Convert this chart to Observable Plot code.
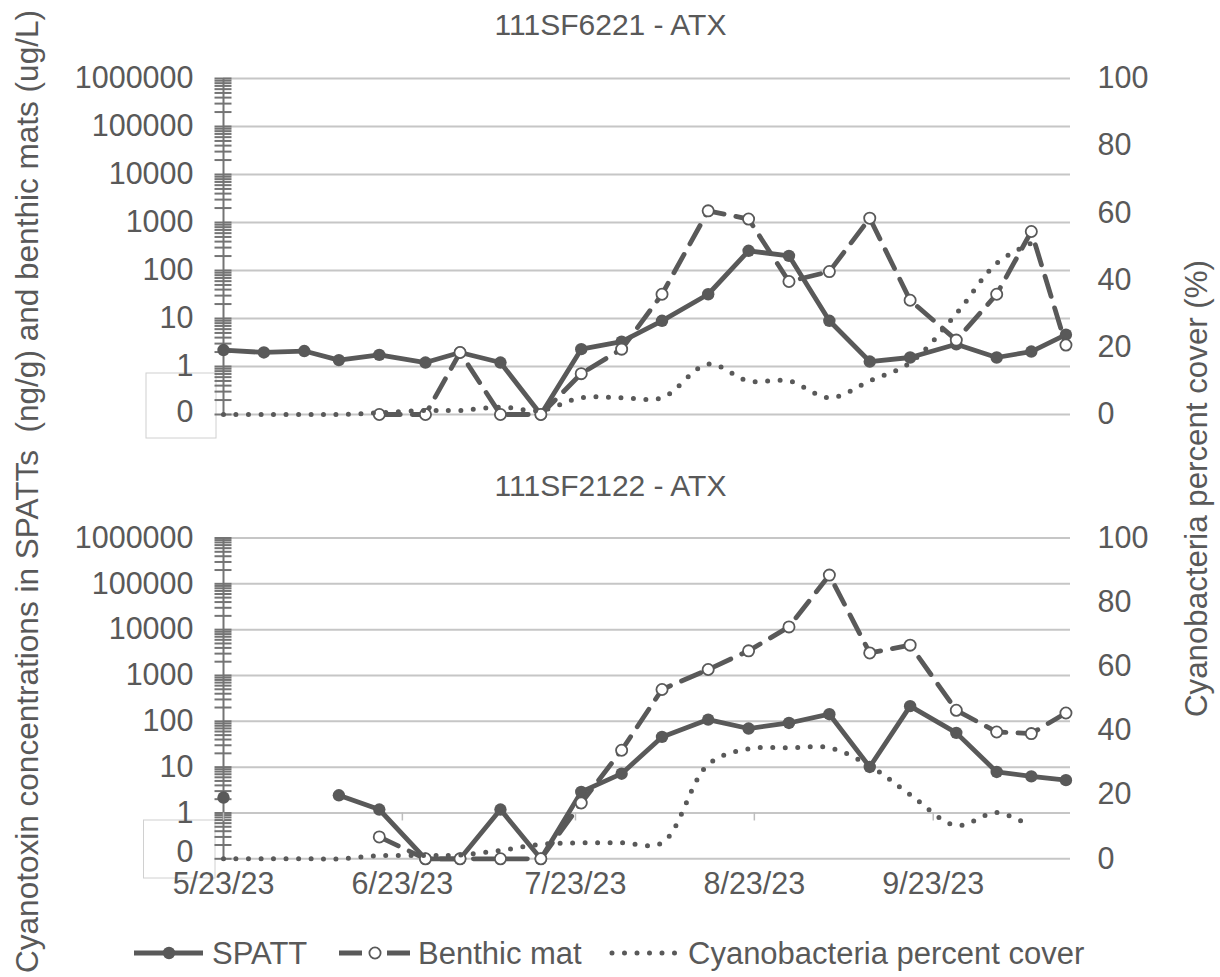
<!DOCTYPE html>
<html><head><meta charset="utf-8">
<script src="https://cdn.jsdelivr.net/npm/d3@7"></script>
<script src="https://cdn.jsdelivr.net/npm/@observablehq/plot@0.6"></script>
<style>
html,body{margin:0;padding:0;background:#fff;}
#wrap{position:relative;width:1220px;height:977px;overflow:hidden;background:#fff;font-family:"Liberation Sans",Arial,sans-serif;}
#wrap > svg{position:absolute;left:0;}
</style></head><body><div id="wrap"></div>
<script>
// ---------- data ----------
const dates = ["2023-05-23","2023-05-30","2023-06-06","2023-06-12","2023-06-19","2023-06-27","2023-07-03",
  "2023-07-10","2023-07-17","2023-07-24","2023-07-31","2023-08-07","2023-08-15","2023-08-22","2023-08-29",
  "2023-09-05","2023-09-12","2023-09-19","2023-09-27","2023-10-04","2023-10-10","2023-10-16"];
// 111SF6221 (ng/g SPATT, ug/L benthic; 0.1 = plotted as "0")
const spattTop = [2.2,1.96,2.1,1.36,1.75,1.21,1.96,1.21,0.1,2.3,3.3,8.95,32,257,202,8.95,1.27,1.54,2.9,1.54,2.05,4.6];
const benthicTop = [null,null,null,null,0.1,0.1,1.96,0.1,0.1,0.71,2.3,32,1750,1180,59,95,1230,24,3.55,32,650,2.8];
const coverTop = [0,0,0,0,0.5,1.2,1.2,2.2,1.2,5,5,5,15,10,10,5,10,15.4,30,45,51,null];
// 111SF2122
const spattBottom = [2.17,null,null,2.43,1.19,0.1,0.1,1.19,0.1,2.88,7.2,45.7,109,69.6,92,143,10.1,214,56,7.85,6.3,5.2];
const benthicBottom = [null,null,null,null,0.3,0.1,0.1,0.1,0.1,1.65,23.4,495,1350,3450,11500,155000,3100,4590,174,58.5,54,152];
const coverBottom = [0,0,0,0,1,1,1.2,2.6,4.5,5,5,5,29.4,34.3,34.6,34.6,29,20,10.4,14.4,10,null];

const panelTitles = ["111SF6221 - ATX","111SF2122 - ATX"];
const leftTicks = [1,10,100,1000,10000,100000,1000000];
const zeroTick = [0.1];
const rightTicks = [0,20,40,60,80,100];
const xTickDates = ["2023-05-23","2023-06-23","2023-07-23","2023-08-23","2023-09-23"];
const seriesNames = ["SPATT","Benthic mat","Cyanobacteria percent cover"];
const leftTitle = "Cyanotoxin concentrations in SPATTs  (ng/g) and benthic mats (ug/L)";
const rightTitle = "Cyanobacteria percent cover (%)";

// ---------- style ----------
const DARK = "#595959", TEXT = "#595959", GRID = "#c6c6c6", AXIS = "#747474";
const FONT = '"Liberation Sans", Arial, sans-serif';
const xDomain = [new Date("2023-05-23T00:00Z"), new Date("2023-10-16T19:00Z")];
const pctToY = p => Math.pow(10, -1 + 7 * p / 100);
const minorTicks = [];
for (let e = -1; e < 6; e++) for (let k = 1; k <= 9; k++) minorTicks.push(k * Math.pow(10, e));
minorTicks.push(1e6);
const fmtDate = d3.utcFormat("%-m/%-d/%y");

const wrap = document.getElementById("wrap");

// background layer (boxes behind the "0" labels)
const bg = d3.select(wrap).append("svg").attr("width",1220).attr("height",977).style("top","0px");
[[146,373,70,65],[143.5,820,71.5,58]].forEach(([x,y,w,h]) =>
  bg.append("rect").attr("x",x).attr("y",y).attr("width",w).attr("height",h)
    .attr("fill","#fff").attr("stroke","#d0d0d0").attr("stroke-width",1));

function panel(spatt, benthic, cover, top, height, marginTop, marginBottom, withXAxis, zeroDy) {
  const rows = dates.map((d, i) => ({
    date: new Date(d + "T00:00Z"),
    spatt: spatt[i], benthic: benthic[i],
    cover: cover[i] == null ? null : pctToY(cover[i])
  }));
  const plotH = height - marginTop - marginBottom;
  const marks = [
    Plot.ruleY(leftTicks.concat(zeroTick), {stroke: GRID, strokeWidth: 2}),
    Plot.ruleX([xDomain[0]], {stroke: AXIS, strokeWidth: 2}),
    Plot.axisY(minorTicks, {anchor: "left", tickSize: 17, dx: 8.5, tickFormat: () => "", stroke: AXIS, strokeWidth: 2}),
    Plot.text(leftTicks, {y: d => d, frameAnchor: "left", dx: -30, textAnchor: "end",
      text: d => String(d), fontSize: 30.5, fill: TEXT}),
    Plot.text(zeroTick, {y: d => d, frameAnchor: "left", dx: -30, dy: zeroDy, textAnchor: "end",
      text: () => "0", fontSize: 30.5, fill: TEXT}),
    Plot.text(rightTicks, {y: p => pctToY(p), frameAnchor: "right", dx: 27, textAnchor: "start",
      text: p => String(p), fontSize: 30.5, fill: TEXT})
  ];
  if (withXAxis) {
    const xt = xTickDates.map(d => new Date(d + "T00:00Z"));
    marks.push(
      Plot.ruleX(xt, {y1: 1, y2: Math.pow(10, -8 / (plotH / 7)), stroke: "#bdbdbd", strokeWidth: 1.5}),
      Plot.text(xt, {x: d => d, frameAnchor: "bottom", dy: 35, text: fmtDate, fontSize: 30.5, fill: TEXT})
    );
  }
  marks.push(
    Plot.line(rows, {x: "date", y: "spatt", stroke: DARK, strokeWidth: 4.8}),
    Plot.dot(rows, {x: "date", y: "spatt", r: 6.2, fill: DARK}),
    Plot.line(rows, {x: "date", y: "benthic", stroke: DARK, strokeWidth: 4.8, strokeDasharray: "21 12"}),
    Plot.dot(rows, {x: "date", y: "benthic", r: 5.6, fill: "white", stroke: DARK, strokeWidth: 1.8}),
    Plot.line(rows, {x: "date", y: "cover", stroke: DARK, strokeWidth: 5, strokeDasharray: "0 12.5",
      strokeLinecap: "round", curve: "catmull-rom"})
  );
  const svg = Plot.plot({
    width: 1220, height, marginLeft: 223, marginRight: 150, marginTop, marginBottom,
    x: {type: "utc", domain: xDomain, axis: null},
    y: {type: "log", domain: [0.1, 1e6], axis: null},
    style: {background: "transparent", overflow: "visible", fontFamily: FONT, color: TEXT},
    marks
  });
  svg.style.position = "absolute";
  svg.style.top = top + "px";
  svg.style.left = "0px";
  wrap.appendChild(svg);
}

panel(spattTop, benthicTop, coverTop, 0, 450, 78, 36, false, -2);
panel(spattBottom, benthicBottom, coverBottom, 460, 517, 77.5, 118.7, true, -7);

// overlay: titles, axis titles, legend
const ov = d3.select(wrap).append("svg").attr("width",1220).attr("height",977).style("top","0px")
  .style("font-family", FONT).attr("fill", TEXT);
ov.append("text").attr("x",610.5).attr("y",35).attr("text-anchor","middle").attr("font-size",30).text(panelTitles[0]);
ov.append("text").attr("x",610.5).attr("y",495.5).attr("text-anchor","middle").attr("font-size",30).text(panelTitles[1]);
ov.append("text").attr("transform","translate(37.5,491.5) rotate(-90)").attr("text-anchor","middle")
  .attr("font-size",31).attr("textLength",963).attr("lengthAdjust","spacingAndGlyphs").style("white-space","pre").text(leftTitle);
ov.append("text").attr("transform","translate(1207,488.5) rotate(-90)").attr("text-anchor","middle")
  .attr("font-size",31).attr("textLength",457).attr("lengthAdjust","spacingAndGlyphs").text(rightTitle);

const ly = 953, lb = 963.5;
const lg = ov.append("g");
lg.append("line").attr("x1",134).attr("x2",203).attr("y1",ly).attr("y2",ly).attr("stroke",DARK).attr("stroke-width",4.8);
lg.append("circle").attr("cx",169).attr("cy",ly).attr("r",6.2).attr("fill",DARK);
lg.append("text").attr("x",212).attr("y",lb).attr("font-size",31).text(seriesNames[0]);
lg.append("line").attr("x1",339).attr("x2",410).attr("y1",ly).attr("y2",ly).attr("stroke",DARK).attr("stroke-width",4.8)
  .attr("stroke-dasharray","23 25 23");
lg.append("circle").attr("cx",375).attr("cy",ly).attr("r",5.6).attr("fill","#fff").attr("stroke",DARK).attr("stroke-width",1.8);
lg.append("text").attr("x",418).attr("y",lb).attr("font-size",31).text(seriesNames[1]);
lg.append("line").attr("x1",612).attr("x2",675).attr("y1",ly).attr("y2",ly).attr("stroke",DARK).attr("stroke-width",5)
  .attr("stroke-dasharray","0 12.5").attr("stroke-linecap","round");
lg.append("text").attr("x",688).attr("y",lb).attr("font-size",31).text(seriesNames[2]);
</script></body></html>
